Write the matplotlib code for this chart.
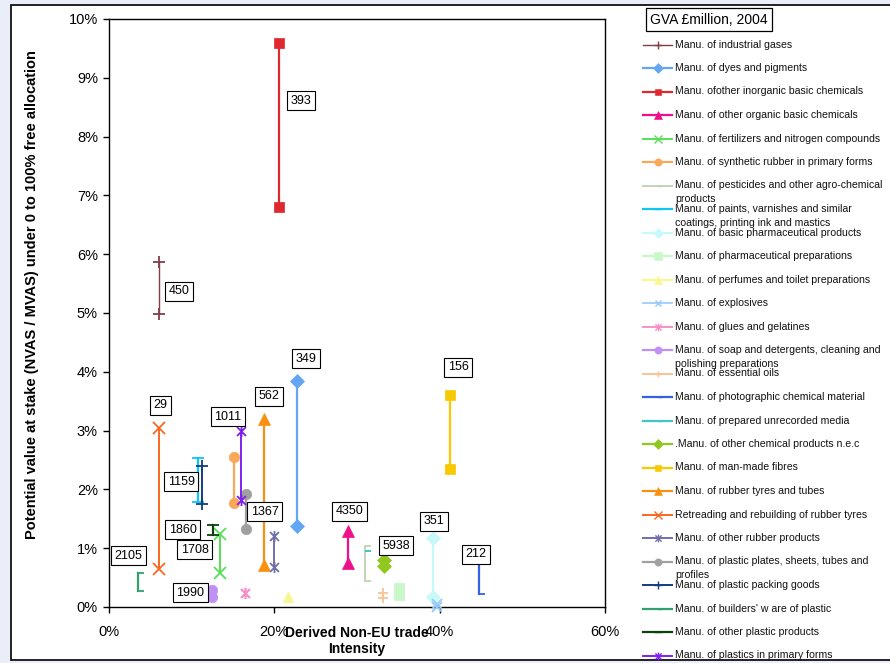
import matplotlib
matplotlib.use("Agg")
import matplotlib.pyplot as plt
from matplotlib.path import Path
from matplotlib.lines import Line2D
from matplotlib.patches import Rectangle
from matplotlib.ticker import FuncFormatter, MultipleLocator

plt.rcParams['font.family'] = ['Liberation Sans', 'DejaVu Sans']

# ---- data -------------------------------------------------------------
sectors = [
    "Manu. of industrial gases",
    "Manu. of dyes and pigments",
    "Manu. ofother inorganic basic chemicals",
    "Manu. of other organic basic chemicals",
    "Manu. of fertilizers and nitrogen compounds",
    "Manu. of synthetic rubber in primary forms",
    "Manu. of pesticides and other agro-chemical\nproducts",
    "Manu. of paints, varnishes and similar\ncoatings, printing ink and mastics",
    "Manu. of basic pharmaceutical products",
    "Manu. of pharmaceutical preparations",
    "Manu. of perfumes and toilet preparations",
    "Manu. of explosives",
    "Manu. of glues and gelatines",
    "Manu. of soap and detergents, cleaning and\npolishing preparations",
    "Manu. of essential oils",
    "Manu. of photographic chemical material",
    "Manu. of prepared unrecorded media",
    ".Manu. of other chemical products n.e.c",
    "Manu. of man-made fibres",
    "Manu. of rubber tyres and tubes",
    "Retreading and rebuilding of rubber tyres",
    "Manu. of other rubber products",
    "Manu. of plastic plates, sheets, tubes and\nprofiles",
    "Manu. of plastic packing goods",
    "Manu. of builders' w are of plastic",
    "Manu. of other plastic products",
    "Manu. of plastics in primary forms",
]

# Derived non-EU trade intensity (%)
trade_intensity = [6.1, 22.7, 20.6, 28.9, 13.4, 15.1, 31.0, 10.8, 39.2, 35.1,
                   21.6, 39.7, 16.4, 12.5, 33.2, 44.8, 31.0, 33.3, 41.2, 18.7,
                   6.1, 20.0, 16.6, 11.3, 3.5, 12.6, 16.0]

# Value at stake (NVAS / MVAS, %) at 100% and 0% free allocation
vas_low = [4.99, 1.37, 6.80, 0.75, 0.58, 1.77, 0.45, 1.78, 0.17, 0.20,
           0.17, 0.00, 0.23, 0.17, 0.15, 0.22, 0.96, 0.69, 2.35, 0.71,
           0.65, 0.68, 1.32, 1.75, 0.28, 1.22, 1.82]
vas_high = [5.87, 3.84, 9.60, 1.29, 1.24, 2.55, 1.03, 2.54, 1.17, 0.33,
            0.17, 0.05, 0.23, 0.29, 0.24, 0.73, 0.96, 0.80, 3.61, 3.20,
            3.05, 1.20, 1.93, 2.40, 0.58, 1.39, 3.00]

# GVA, GBP million, 2004 (shown for selected sectors)
gva = [450, 349, 393, 4350, 1708, None, None, None, 351, None,
       None, None, None, 1990, None, 212, None, 5938, 156, 562,
       29, None, 1367, 1159, 2105, 1860, 1011]

# ---- styles -----------------------------------------------------------
dash_right = Path([(0, 0), (1, 0)], [Path.MOVETO, Path.LINETO])
asterisk = Path([(0, -1), (0, 1), (-0.8, -0.8), (0.8, 0.8), (-0.8, 0.8), (0.8, -0.8)],
                [Path.MOVETO, Path.LINETO, Path.MOVETO, Path.LINETO, Path.MOVETO, Path.LINETO])

colors = ['#804048', '#64a6f4', '#e02830', '#ee1088', '#58e058', '#f8a858',
          '#c4d2b4', '#10c4f4', '#c8f8f8', '#c8f8c8', '#f8f890', '#98c8f8',
          '#f890c8', '#c090f4', '#f8c496', '#3462e6', '#40c8c4', '#90c820',
          '#f8c800', '#f89010', '#f86820', '#7070a8', '#a0a0a0', '#143c80',
          '#30a070', '#0c400c', '#8020f0']
markers = ['+', 'D', 's', '^', 'x', 'o', dash_right, '_', 'D', 's',
           '^', 'x', asterisk, 'o', '+', dash_right, dash_right, 'D', 's', '^',
           'x', asterisk, 'o', '+', dash_right, '_', asterisk]
msizes = [8, 7, 7, 8.5, 8.5, 7.5, 8, 8, 7, 7.5,
          7.5, 7, 8, 7.5, 7, 8, 8, 7, 7, 8.5,
          8.5, 8, 7.5, 8, 8, 8, 8]
line_w = [1.0, 1.6, 1.6, 1.6, 1.4, 1.6, 1.4, 1.6, 1.6, 1.6,
          1.6, 1.2, 1.4, 1.6, 1.4, 1.6, 1.6, 1.6, 1.6, 1.6,
          1.4, 1.4, 1.6, 1.4, 1.6, 1.6, 1.4]

# offsets (points) of the GVA boxes from the upper end of each range
label_offsets = [(14.4, -21.3), (6.8, 16.2), (15.6, -42.1), (1.2, 14.2), (-17.9, -11.2),
                 None, None, None, (0.7, 12.2), None,
                 None, None, None, (-15.7, -2.0), None,
                 (-2.2, 7.1), None, (8.4, 10.2), (6.2, 19.8), (3.7, 16.3),
                 (0.5, 16.2), None, (13.3, -13.2), (-15.2, -11.3), (-7.0, 12.4),
                 (-21.8, -3.2), (-9.6, 10.1)]

W, H = 890, 663
fig = plt.figure(figsize=(W / 100, H / 100), dpi=100)
fig.patch.set_facecolor('#e9eef9')

# white chart panel
fig.patches.append(Rectangle((10.5 / W, (H - 660.3) / H), 1.0, (660.3 - 4.5) / H,
                             transform=fig.transFigure, facecolor='white',
                             edgecolor='#111111', linewidth=1.3, zorder=-10))

ax = fig.add_axes([109 / W, (H - 607) / H, (605 - 109) / W, (607 - 19) / H])
ax.set_zorder(1)
ax.set_facecolor('white')
ax.set_xlim(0, 60)
ax.set_ylim(0, 10)
ax.xaxis.set_major_locator(MultipleLocator(20))
ax.yaxis.set_major_locator(MultipleLocator(1))
pct = FuncFormatter(lambda v, p: f"{v:.0f}%")
ax.xaxis.set_major_formatter(pct)
ax.yaxis.set_major_formatter(pct)
ax.tick_params(direction='out', length=4, width=1, labelsize=10.5, colors='black', pad=4)
ax.tick_params(axis='x', pad=9)
for s in ax.spines.values():
    s.set_linewidth(1.0)
    s.set_color('black')

for i, name in enumerate(sectors):
    filled = markers[i] in ('D', 's', '^', 'o')
    ax.plot([trade_intensity[i], trade_intensity[i]], [vas_low[i], vas_high[i]],
            color=colors[i], lw=line_w[i], marker=markers[i], ms=msizes[i],
            mec=colors[i], mfc=colors[i], mew=1.3 if not filled else 0.5,
            clip_on=False, zorder=3)
    if gva[i] is not None:
        ax.annotate(f"{gva[i]}", (trade_intensity[i], vas_high[i]),
                    xytext=label_offsets[i], textcoords='offset points',
                    ha='center', va='center', fontsize=9, zorder=5,
                    bbox=dict(boxstyle='square,pad=0.28', fc='white', ec='black', lw=0.8))

ax.set_xlabel("Derived Non-EU trade\nIntensity", fontsize=10, fontweight='bold',
              linespacing=1.2)
ax.xaxis.set_label_coords(0.5, -0.032)
ax.xaxis.label.set_va('top')
fig.text(32 / W, 1 - 295 / H,
         "Potential value at stake (NVAS / MVAS) under 0 to 100% free allocation",
         rotation=90, ha='center', va='center', fontsize=10.5, fontweight='bold')

# legend, drawn entry by entry
fig.text(709 / W, 1 - 19.5 / H, "GVA £million, 2004", ha='center', va='center',
         fontsize=10, bbox=dict(boxstyle='square,pad=0.3', fc='white', ec='black', lw=0.9))
y0, step, line_gap = 44.5, 23.5, 14.0
for i, name in enumerate(sectors):
    yc = y0 + i * step
    fy = 1 - yc / H
    fig.lines.append(Line2D([643 / W, 672 / W], [fy, fy], transform=fig.transFigure,
                            color=colors[i], lw=line_w[i]))
    filled = markers[i] in ('D', 's', '^', 'o')
    fig.lines.append(Line2D([657.5 / W], [fy], transform=fig.transFigure,
                            marker=markers[i], ms=msizes[i] * 0.7, color=colors[i],
                            mec=colors[i], mfc=colors[i],
                            mew=1.0 if not filled else 0.4, lw=0))
    for k, part in enumerate(name.split('\n')):
        fig.text(675 / W, 1 - (yc + k * line_gap) / H, part, ha='left', va='center',
                 fontsize=7.6, color='#111111')

fig.savefig("out.png", dpi=100, facecolor=fig.get_facecolor())
